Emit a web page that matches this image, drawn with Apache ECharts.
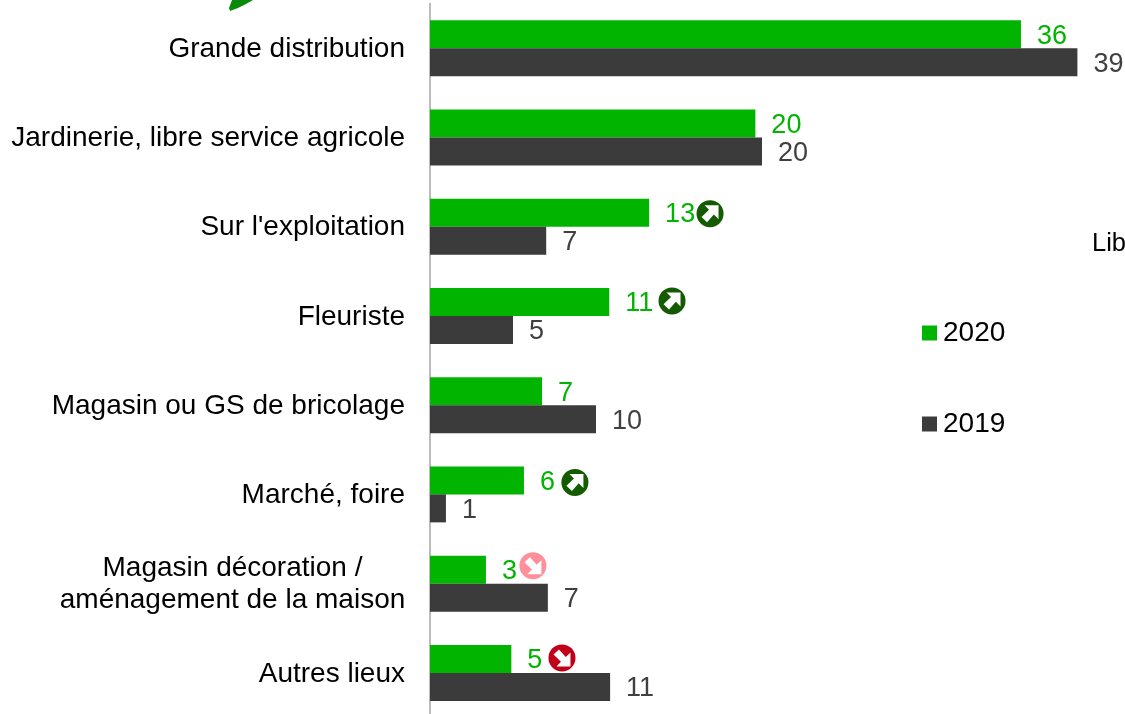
<!DOCTYPE html>
<html><head><meta charset="utf-8">
<style>html,body{margin:0;padding:0;background:#fff}#c{width:1125px;height:714px}</style>
<script src="https://cdn.jsdelivr.net/npm/echarts@6/dist/echarts.min.js"></script>
</head><body><div id="c"></div>
<script>
const categories = ["Grande distribution","Jardinerie, libre service agricole","Sur l'exploitation","Fleuriste","Magasin ou GS de bricolage","Marché, foire","Magasin décoration /\naménagement de la maison","Autres lieux"];
const values2020 = [35.6,19.6,13.2,10.8,6.75,5.66,3.37,4.9];
const values2019 = [39,20,7,5,10,0.96,7.1,10.85];
const labels2020 = ["36","20","13","11","7","6","3","5"];
const labels2019 = ["39","20","7","5","10","1","7","11"];
const iconCategory = [2,3,5,6,7];
const iconValue = [16.87,14.58,8.73,6.2,7.95];
const iconRise = [-13,-15,-12,-18,-15];
const iconColor = ["#145a00","#145a00","#145a00","#ff8f9a","#c00018"];
const iconDir = [1,1,1,-1,-1];
const GREEN="#00b400", DARK="#3b3b3b", FONT="'Liberation Sans',Arial,sans-serif";
const chart = echarts.init(document.getElementById('c'),null,{renderer:'canvas'});
function barLabel(color,labels){return {show:true,position:'right',distance:16,color:color,fontFamily:FONT,fontSize:27,offset:[0,2],
  formatter:p=>labels[p.dataIndex]};}
chart.setOption({
  animation:false,
  backgroundColor:'#fff',
  grid:{left:430,top:3.5,width:664,height:714,outerBoundsMode:'none'},
  xAxis:{type:'value',min:0,max:40,show:false},
  yAxis:{type:'category',inverse:true,data:categories,offset:2,
    axisTick:{show:false},
    axisLine:{show:true,lineStyle:{color:'#a6a6a6',width:1.5}},
    axisLabel:{margin:23,padding:[2,0,0,0],interval:0,color:'#000',fontFamily:FONT,fontSize:28,lineHeight:32,align:'right',
      formatter:v=>v.includes('\n')?v.split('\n').map(s=>'{c|'+s+'}').join('\n'):v,
      rich:{c:{width:345,align:'center',color:'#000',fontFamily:FONT,fontSize:28,lineHeight:32}}}},
  legend:{left:922,top:319,orient:'vertical',data:['2020','2019'],icon:'rect',itemWidth:15,itemHeight:15,itemGap:63,padding:0,
    textStyle:{color:'#000',fontFamily:FONT,fontSize:28,padding:[0,0,0,1]}},
  series:[
    {name:'2020',type:'bar',data:values2020,barWidth:28,barGap:0,itemStyle:{color:GREEN},label:barLabel(GREEN,labels2020)},
    {name:'2019',type:'bar',data:values2019,barWidth:28,barGap:0,itemStyle:{color:DARK},label:barLabel('#404040',labels2019)},
    {name:'icons',type:'custom',coordinateSystem:'cartesian2d',z:5,silent:true,
     encode:{x:0,y:1},
     data:iconValue.map((v,i)=>[v,iconCategory[i],i]),
     renderItem:(params,api)=>{
       const i=api.value(2), pt=api.coord([api.value(0),api.value(1)]);
       const cx=pt[0], cy=pt[1]+iconRise[i], d=iconDir[i];
       const arrow=[[-5.5,-8.5],[8.5,-8.5],[8.5,5.5],[3.8,0.8],[-3,8.5],[-8.5,3.4],[-1,-3.8]];
       return {type:'group',x:cx,y:cy,children:[
         {type:'circle',shape:{cx:0,cy:0,r:13.5},style:{fill:iconColor[i]}},
         {type:'polygon',shape:{points:arrow.map(p=>[p[0],p[1]*d])},style:{fill:'#fff'}}
       ]};
     }}
  ],
  graphic:[
    {type:'text',left:1092,top:231,style:{text:'Lib',fill:'#000',font:"25.5px "+FONT}},
    {type:'polygon',shape:{points:[[232,0],[253,0],[246,4],[238,8],[230,11],[229,8]]},style:{fill:'#0a8a0a'}}
  ]
});
</script></body></html>
